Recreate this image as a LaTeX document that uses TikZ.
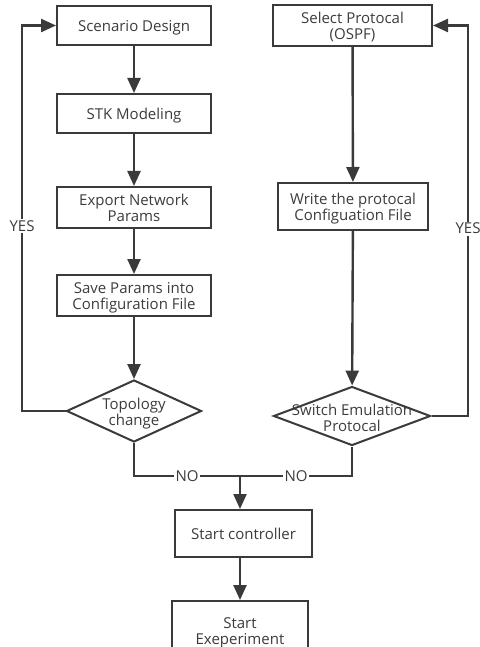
\documentclass[tikz,border=0pt]{standalone}
\usepackage{fontspec}
\setmainfont{Open Sans}
\usetikzlibrary{shapes.geometric,arrows.meta}
\definecolor{ink}{HTML}{3A3A3A}
\definecolor{txt}{HTML}{3C3C3C}
\begin{document}
\begin{tikzpicture}[x=1pt,y=-1pt,
  stepbox/.style={draw=ink,line width=2pt,fill=white,inner sep=0pt,text=txt,
    text depth=0pt,align=center,font=\fontsize{15}{16}\selectfont},
  decision/.style={draw=ink,line width=2pt,diamond,inner sep=0pt},
  dtext/.style={text=txt,align=center,inner sep=0pt,text depth=0pt,
    font=\fontsize{15}{16}\selectfont},
  lbl/.style={text=txt,font=\fontsize{15}{16}\selectfont,inner sep=1.5pt,fill=white},
  flow/.style={draw=ink,line width=2.4pt,-{Triangle[length=15pt,width=13pt]}},
  link/.style={draw=ink,line width=2.4pt}]
\useasboundingbox (0,0) rectangle (479,647);
\clip (0,0) rectangle (479,647);

% left column: scenario preparation
\node[stepbox,minimum width=154pt,minimum height=39pt] (sd)   at (134,25.5)  {Scenario Design};
\node[stepbox,minimum width=154pt,minimum height=39pt] (stk)  at (134,113.5) {STK Modeling};
\node[stepbox,minimum width=154pt,minimum height=41pt] (exp)  at (134,207.5) {Export Network\\Params};
\node[stepbox,minimum width=154pt,minimum height=41pt] (save) at (134,295.5) {Save Params into\\Configuration File};
\node[decision,minimum width=135pt,minimum height=62pt] (topo) at (134,411) {};
\node[dtext] (topot) at (134,412) {Topology\\change};

% right column: protocol preparation
\node[stepbox,minimum width=159pt,minimum height=41pt] (sel) at (352.5,25.5) {Select Protocal\\(OSPF)};
\node[stepbox,minimum width=150pt,minimum height=47pt] (wr)  at (353,206.5)  {Write the protocal\\Configuation File};
\node[decision,minimum width=157pt,minimum height=59pt] (sw) at (352,416) {};
\node[dtext] (swt) at (352,417.5) {Switch Emulation\\Protocal};

% common tail
\coordinate (yl) at (22,0);
\coordinate (yr) at (468,0);
\coordinate (j) at (240,476);
\node[stepbox,minimum width=137pt,minimum height=47pt] (ctrl)  at (243.5,533.5) {Start controller};
\node[stepbox,minimum width=136pt,minimum height=60pt] (exper) at (240,631) {Start\\Exeperiment};

% connectors
\draw[flow] (sd) -- (stk);
\draw[flow] (stk) -- (exp);
\draw[flow] (exp) -- (save);
\draw[flow] (save) -- (topo);
\draw[flow] (topo.west) -- (topo.west -| yl) |- (sd.west) node[lbl,pos=0.24] {YES};

\draw[flow] (sel) -- (wr);
\draw[flow] (wr) -- (sw);
\draw[flow] (sw.east) -- (sw.east -| yr) |- (sel.east) node[lbl,pos=0.24] {YES};

\draw[link] (topo.south) |- (j) node[lbl,pos=0.75] {NO};
\draw[link] (sw.south) |- (j) node[lbl,pos=0.75] {NO};
\draw[flow] (j) -- (j |- ctrl.north);
\draw[flow] (ctrl.south -| j) -- (exper.north -| j);
\end{tikzpicture}
\end{document}
